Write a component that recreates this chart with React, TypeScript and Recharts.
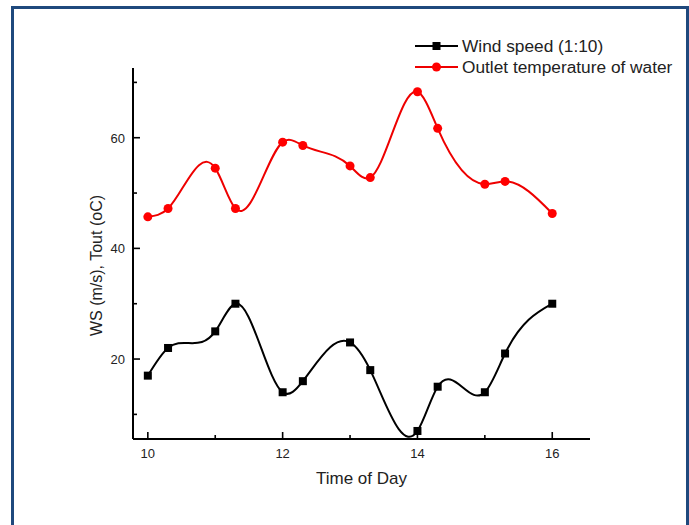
import React from 'react';
import { LineChart, Line, XAxis, YAxis } from 'recharts';

const times = [10, 10.3, 11, 11.3, 12, 12.3, 13, 13.3, 14, 14.3, 15, 15.3, 16];
const windSpeed = [17, 22, 25, 30, 14, 16, 23, 18, 7, 15, 14, 21, 30];
const outletTemp = [45.7, 47.2, 54.5, 47.2, 59.2, 58.6, 54.9, 52.8, 68.3, 61.7, 51.6, 52.1, 46.3];
const xTicks = [10, 11, 12, 13, 14, 15, 16];
const yTicks = [10, 20, 30, 40, 50, 60, 70];

const data = times.map((t, i) => ({ time: t, wind: windSpeed[i], temp: outletTemp[i] }));

const FONT = '"Liberation Sans", Arial, sans-serif';
const TEXT = '#222';

// natural cubic spline with y as a function of x (like Origin's spline connect)
const splineX = (context: any) => {
  let xs: number[] = [];
  let ys: number[] = [];
  return {
    areaStart() {},
    areaEnd() {},
    lineStart() {
      xs = [];
      ys = [];
    },
    point(x: number, y: number) {
      xs.push(+x);
      ys.push(+y);
    },
    lineEnd() {
      const n = xs.length;
      if (!n) return;
      context.moveTo(xs[0], ys[0]);
      if (n < 3) {
        for (let i = 1; i < n; i++) context.lineTo(xs[i], ys[i]);
        return;
      }
      const h: number[] = [];
      for (let i = 0; i < n - 1; i++) h.push(xs[i + 1] - xs[i]);
      // tridiagonal solve for second derivatives
      const a: number[] = new Array(n).fill(0);
      const b: number[] = new Array(n).fill(1);
      const c: number[] = new Array(n).fill(0);
      const r: number[] = new Array(n).fill(0);
      for (let i = 1; i < n - 1; i++) {
        a[i] = h[i - 1];
        b[i] = 2 * (h[i - 1] + h[i]);
        c[i] = h[i];
        r[i] = 6 * ((ys[i + 1] - ys[i]) / h[i] - (ys[i] - ys[i - 1]) / h[i - 1]);
      }
      for (let i = 1; i < n; i++) {
        const m = a[i] / b[i - 1];
        b[i] -= m * c[i - 1];
        r[i] -= m * r[i - 1];
      }
      const M: number[] = new Array(n).fill(0);
      M[n - 1] = r[n - 1] / b[n - 1];
      for (let i = n - 2; i >= 0; i--) M[i] = (r[i] - c[i] * M[i + 1]) / b[i];
      for (let i = 0; i < n - 1; i++) {
        const hi = h[i];
        const s = (ys[i + 1] - ys[i]) / hi;
        const d0 = s - (hi * (2 * M[i] + M[i + 1])) / 6;
        const d1 = s + (hi * (M[i] + 2 * M[i + 1])) / 6;
        context.bezierCurveTo(
          xs[i] + hi / 3,
          ys[i] + (d0 * hi) / 3,
          xs[i + 1] - hi / 3,
          ys[i + 1] - (d1 * hi) / 3,
          xs[i + 1],
          ys[i + 1]
        );
      }
    },
  };
};

const XTick = (props: any) => {
  const { x, y, payload } = props;
  const v = payload.value;
  const major = v % 2 === 0;
  return (
    <g>
      <line x1={x} x2={x} y1={y} y2={y - (major ? 7 : 4)} stroke='#000' strokeWidth={1.6} />
      {major && (
        <text x={x} y={y + 19} textAnchor='middle' fontSize={13} fontFamily={FONT} fill={TEXT}>
          {v}
        </text>
      )}
    </g>
  );
};

const YTick = (props: any) => {
  const { x, y, payload } = props;
  const v = payload.value;
  const major = v % 20 === 0;
  return (
    <g>
      <line x1={x} x2={x + (major ? 7 : 4)} y1={y} y2={y} stroke='#000' strokeWidth={1.6} />
      {major && (
        <text x={x - 8} y={y + 5} textAnchor='end' fontSize={13} fontFamily={FONT} fill={TEXT}>
          {v}
        </text>
      )}
    </g>
  );
};

const YLabel = (props: any) => {
  const { viewBox } = props;
  const cx = 96;
  const cy = viewBox.y + viewBox.height / 2 + 12;
  return (
    <text
      x={cx}
      y={cy}
      transform={`rotate(-90, ${cx}, ${cy})`}
      textAnchor='middle'
      dominantBaseline='central'
      fontSize={16}
      fontFamily={FONT}
      fill={TEXT}
    >
      WS (m/s), Tout (oC)
    </text>
  );
};

const LegendBox = () => (
  <svg width={275} height={44} style={{ position: 'absolute', left: 414, top: 36, overflow: 'visible' }}>
    <line x1={1} x2={44} y1={10} y2={10} stroke='#000' strokeWidth={2} />
    <rect x={18.5} y={6} width={8} height={8} fill='#000' />
    <text x={48} y={16} fontSize={17.3} fontFamily={FONT} fill={TEXT}>
      Wind speed (1:10)
    </text>
    <line x1={1} x2={44} y1={31} y2={31} stroke='#e00' strokeWidth={2} />
    <circle cx={22.5} cy={31} r={4.5} fill='#f00' />
    <text x={48} y={37} fontSize={17.3} fontFamily={FONT} fill={TEXT}>
      Outlet temperature of water
    </text>
  </svg>
);

export default function App() {
  return (
    <div style={{ position: 'absolute', left: 0, top: 0, width: 689, height: 525, background: '#fff', overflow: 'hidden' }}>
      <div
        style={{
          position: 'absolute',
          left: 11,
          top: 6,
          width: 672,
          height: 530,
          borderTop: '3px solid #1f497d',
          borderLeft: '3px solid #1f497d',
          borderRight: '3px solid #1f497d',
        }}
      />
      <div style={{ position: 'absolute', left: 0, top: 0 }}>
        <LineChart width={689} height={525} data={data} margin={{ top: 68, right: 99, bottom: 0, left: 0 }}>
          <XAxis
            dataKey='time'
            type='number'
            domain={[9.78, 16.56]}
            ticks={xTicks}
            tick={<XTick />}
            tickSize={0}
            tickMargin={0}
            tickLine={false}
            axisLine={{ stroke: '#000', strokeWidth: 2 }}
            height={86}
            label={{
              value: 'Time of Day',
              position: 'insideTop',
              offset: 33,
              fontSize: 17,
              fontFamily: FONT,
              fill: TEXT,
            }}
          />
          <YAxis
            type='number'
            domain={[5.55, 72.6]}
            allowDataOverflow
            ticks={yTicks}
            tick={<YTick />}
            tickSize={0}
            tickMargin={0}
            tickLine={false}
            axisLine={{ stroke: '#000', strokeWidth: 2 }}
            width={133}
            label={<YLabel />}
          />
          <Line
            type={splineX as any}
            dataKey='wind'
            stroke='#000'
            strokeWidth={2}
            dot={(p: any) => (
              <rect key={`w${p.index}`} x={p.cx - 4} y={p.cy - 4} width={8} height={8} fill='#000' />
            )}
            activeDot={false}
            isAnimationActive={false}
          />
          <Line
            type={splineX as any}
            dataKey='temp'
            stroke='#e00'
            strokeWidth={2}
            dot={{ r: 4.5, fill: '#f00', stroke: 'none' }}
            activeDot={false}
            isAnimationActive={false}
          />
        </LineChart>
      </div>
      <LegendBox />
    </div>
  );
}
